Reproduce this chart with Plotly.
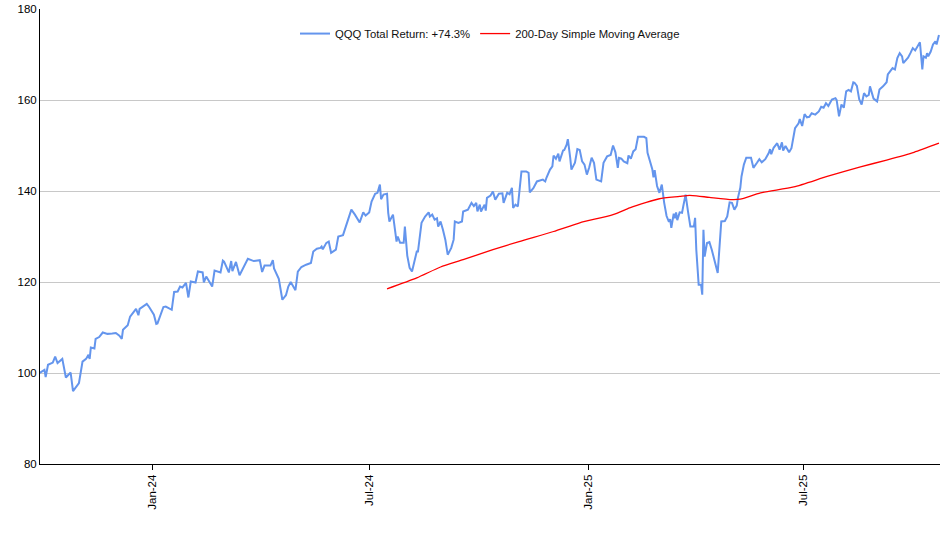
import plotly.graph_objects as go

# ---- data ----
qqq_dates = [
    "2023-09-28", "2023-10-02", "2023-10-03", "2023-10-05", "2023-10-09", "2023-10-11", "2023-10-13", "2023-10-17",
    "2023-10-20", "2023-10-24", "2023-10-26", "2023-10-31", "2023-11-03", "2023-11-06", "2023-11-08", "2023-11-09",
    "2023-11-10", "2023-11-13", "2023-11-14", "2023-11-17", "2023-11-20", "2023-11-24", "2023-11-28", "2023-12-01",
    "2023-12-04", "2023-12-06", "2023-12-07", "2023-12-11", "2023-12-13", "2023-12-15", "2023-12-18", "2023-12-20",
    "2023-12-21", "2023-12-27", "2023-12-29", "2024-01-02", "2024-01-04", "2024-01-05", "2024-01-08", "2024-01-10",
    "2024-01-12", "2024-01-17", "2024-01-19", "2024-01-22", "2024-01-24", "2024-01-26", "2024-01-29", "2024-01-31",
    "2024-02-02", "2024-02-06", "2024-02-08", "2024-02-12", "2024-02-13", "2024-02-15", "2024-02-20", "2024-02-22",
    "2024-02-27", "2024-02-29", "2024-03-01", "2024-03-05", "2024-03-07", "2024-03-08", "2024-03-11", "2024-03-14",
    "2024-03-21", "2024-03-26", "2024-03-31", "2024-04-02", "2024-04-04", "2024-04-09", "2024-04-11", "2024-04-12",
    "2024-04-16", "2024-04-19", "2024-04-22", "2024-04-24", "2024-04-26", "2024-04-30", "2024-05-02", "2024-05-05",
    "2024-05-09", "2024-05-13", "2024-05-15", "2024-05-18", "2024-05-21", "2024-05-22", "2024-05-23", "2024-05-26",
    "2024-05-28", "2024-05-30", "2024-06-03", "2024-06-05", "2024-06-09", "2024-06-13", "2024-06-16", "2024-06-19",
    "2024-06-23", "2024-06-26", "2024-06-28", "2024-07-01", "2024-07-03", "2024-07-06", "2024-07-08", "2024-07-10",
    "2024-07-11", "2024-07-13", "2024-07-16", "2024-07-17", "2024-07-18", "2024-07-21", "2024-07-24", "2024-07-25",
    "2024-07-27", "2024-07-30", "2024-07-31", "2024-08-02", "2024-08-04", "2024-08-06", "2024-08-07", "2024-08-09",
    "2024-08-10", "2024-08-11", "2024-08-14", "2024-08-17", "2024-08-20", "2024-08-21", "2024-08-23", "2024-08-25",
    "2024-08-27", "2024-08-28", "2024-08-30", "2024-09-01", "2024-09-03", "2024-09-05", "2024-09-08", "2024-09-10",
    "2024-09-11", "2024-09-14", "2024-09-17", "2024-09-18", "2024-09-22", "2024-09-25", "2024-09-27", "2024-09-29",
    "2024-09-30", "2024-10-02", "2024-10-03", "2024-10-06", "2024-10-07", "2024-10-08", "2024-10-11", "2024-10-13",
    "2024-10-15", "2024-10-18", "2024-10-21", "2024-10-22", "2024-10-25", "2024-10-27", "2024-10-29", "2024-10-30",
    "2024-11-01", "2024-11-03", "2024-11-06", "2024-11-10", "2024-11-12", "2024-11-13", "2024-11-16", "2024-11-19",
    "2024-11-24", "2024-11-26", "2024-11-27", "2024-11-30", "2024-12-02", "2024-12-03", "2024-12-05", "2024-12-07",
    "2024-12-08", "2024-12-11", "2024-12-12", "2024-12-14", "2024-12-15", "2024-12-17", "2024-12-18", "2024-12-21",
    "2024-12-23", "2024-12-25", "2024-12-27", "2024-12-29", "2024-12-31", "2025-01-02", "2025-01-04", "2025-01-06",
    "2025-01-08", "2025-01-12", "2025-01-14", "2025-01-17", "2025-01-20", "2025-01-22", "2025-01-24", "2025-01-26",
    "2025-01-27", "2025-01-29", "2025-01-31", "2025-02-03", "2025-02-04", "2025-02-06", "2025-02-08", "2025-02-10",
    "2025-02-12", "2025-02-17", "2025-02-19", "2025-02-20", "2025-02-22", "2025-02-24", "2025-02-25", "2025-02-26",
    "2025-02-28", "2025-03-02", "2025-03-04", "2025-03-05", "2025-03-06", "2025-03-08", "2025-03-10", "2025-03-11",
    "2025-03-12", "2025-03-14", "2025-03-15", "2025-03-16", "2025-03-17", "2025-03-19", "2025-03-21", "2025-03-22",
    "2025-03-24", "2025-03-26", "2025-03-28", "2025-03-31", "2025-04-01", "2025-04-02", "2025-04-04", "2025-04-06",
    "2025-04-07", "2025-04-08", "2025-04-09", "2025-04-11", "2025-04-13", "2025-04-15", "2025-04-18", "2025-04-20",
    "2025-04-23", "2025-04-26", "2025-04-28", "2025-04-30", "2025-05-02", "2025-05-04", "2025-05-06", "2025-05-07",
    "2025-05-09", "2025-05-10", "2025-05-12", "2025-05-14", "2025-05-18", "2025-05-20", "2025-05-23", "2025-05-25",
    "2025-05-27", "2025-05-30", "2025-06-02", "2025-06-03", "2025-06-04", "2025-06-06", "2025-06-09", "2025-06-10",
    "2025-06-11", "2025-06-13", "2025-06-14", "2025-06-16", "2025-06-19", "2025-06-21", "2025-06-24", "2025-06-27",
    "2025-06-28", "2025-06-30", "2025-07-02", "2025-07-04", "2025-07-06", "2025-07-08", "2025-07-11", "2025-07-14",
    "2025-07-16", "2025-07-18", "2025-07-20", "2025-07-22", "2025-07-25", "2025-07-28", "2025-07-29", "2025-07-31",
    "2025-08-01", "2025-08-02", "2025-08-04", "2025-08-06", "2025-08-08", "2025-08-10", "2025-08-12", "2025-08-13",
    "2025-08-15", "2025-08-17", "2025-08-19", "2025-08-21", "2025-08-23", "2025-08-25", "2025-08-26", "2025-08-28",
    "2025-08-29", "2025-09-01", "2025-09-03", "2025-09-06", "2025-09-09", "2025-09-10", "2025-09-13", "2025-09-14",
    "2025-09-16", "2025-09-18", "2025-09-20", "2025-09-22", "2025-09-23", "2025-09-25", "2025-09-27", "2025-09-29",
    "2025-10-01", "2025-10-03", "2025-10-05", "2025-10-07", "2025-10-09", "2025-10-10", "2025-10-12", "2025-10-13",
    "2025-10-14", "2025-10-16", "2025-10-18", "2025-10-20", "2025-10-21", "2025-10-23",
]

qqq_values = [
    100.0, 100.7, 99.1, 101.8, 102.3, 103.6, 102.2, 103.1,
    99.0, 100.1, 96.0, 97.8, 102.5, 103.1, 104.0, 103.1,
    105.6, 105.4, 107.5, 107.9, 108.9, 108.6, 108.7, 108.8,
    108.2, 107.5, 109.5, 110.5, 112.4, 113.2, 114.1, 112.7,
    114.1, 115.2, 114.5, 112.8, 110.8, 110.9, 113.2, 114.5,
    114.6, 113.9, 117.8, 117.9, 119.0, 118.8, 119.8, 116.6,
    120.1, 119.9, 122.3, 122.1, 119.9, 121.2, 119.0, 122.5,
    122.1, 124.7, 124.5, 122.1, 124.6, 122.4, 124.4, 121.5,
    125.1, 124.6, 124.8, 122.2, 123.6, 123.6, 124.8, 123.0,
    120.7, 116.1, 117.1, 119.0, 120.0, 118.2, 122.3, 123.3,
    123.8, 124.2, 126.7, 127.3, 127.5, 127.8, 127.2, 128.6,
    128.9, 126.4, 127.1, 130.0, 130.3, 133.7, 135.9, 134.8,
    133.1, 135.3, 134.6, 135.3, 137.7, 139.4, 139.6, 141.4,
    138.2, 139.2, 139.4, 135.2, 133.3, 134.8, 128.9, 130.0,
    128.6, 128.6, 132.2, 125.8, 123.1, 122.3, 123.6, 125.9,
    126.7, 126.7, 133.0, 134.4, 135.3, 134.4, 134.8, 133.7,
    134.0, 132.2, 133.3, 131.5, 129.3, 126.0, 127.5, 129.3,
    133.3, 133.0, 133.3, 135.5, 135.9, 137.4, 136.7, 137.4,
    135.5, 137.0, 135.5, 137.0, 135.7, 138.5, 139.0, 139.9,
    138.1, 139.4, 139.5, 137.4, 139.6, 139.3, 140.7, 136.3,
    137.0, 136.6, 144.3, 144.3, 144.0, 139.7, 140.6, 142.1,
    142.5, 142.1, 142.9, 144.7, 145.4, 147.8, 147.1, 148.2,
    146.5, 148.9, 149.0, 150.2, 151.4, 147.3, 144.7, 146.2,
    149.2, 149.0, 146.5, 145.8, 143.6, 145.2, 147.3, 146.2,
    142.5, 142.1, 146.2, 147.6, 147.9, 150.0, 148.5, 145.1,
    147.3, 147.1, 146.5, 146.1, 147.8, 147.1, 148.7, 149.2,
    151.9, 151.9, 151.6, 148.4, 146.5, 144.8, 143.0, 144.6,
    141.1, 139.6, 141.4, 138.8, 137.4, 134.5, 133.2, 133.8,
    131.9, 135.0, 134.0, 135.3, 133.6, 135.3, 135.2, 136.6,
    139.2, 135.5, 132.2, 132.2, 134.1, 127.1, 119.4, 119.4,
    117.2, 131.5, 125.6, 128.6, 128.8, 127.1, 124.2, 122.0,
    133.3, 133.4, 134.4, 137.5, 137.4, 135.9, 136.8, 138.5,
    140.7, 143.2, 145.8, 147.3, 147.3, 145.1, 146.2, 147.0,
    146.3, 147.0, 148.4, 149.2, 148.1, 149.5, 150.5, 149.6,
    149.1, 150.7, 148.9, 149.9, 148.5, 149.4, 153.8, 154.9,
    155.8, 154.3, 156.9, 156.2, 156.3, 157.1, 156.8, 157.5,
    158.5, 158.3, 159.3, 158.7, 160.1, 160.4, 160.0, 156.4,
    157.9, 159.0, 158.3, 161.9, 162.2, 161.9, 163.9, 163.8,
    163.1, 160.1, 159.0, 161.5, 160.8, 161.1, 163.0, 160.8,
    160.3, 159.7, 162.3, 163.0, 163.9, 165.6, 166.7, 167.0,
    166.7, 169.2, 170.3, 169.6, 168.1, 168.8, 169.3, 170.3,
    171.4, 170.9, 171.8, 172.7, 166.7, 169.6, 169.3, 170.3,
    169.6, 170.6, 172.2, 172.9, 172.2, 174.3,
]

sma_dates = [
    "2024-07-16", "2024-08-10", "2024-08-30", "2024-09-18", "2024-10-13", "2024-11-04", "2024-12-03",
    "2024-12-25", "2025-01-22", "2025-02-05", "2025-02-19", "2025-03-02", "2025-03-19", "2025-03-25",
    "2025-03-30", "2025-04-13", "2025-05-02", "2025-05-09", "2025-05-26", "2025-06-23", "2025-07-21",
    "2025-08-18", "2025-09-09", "2025-10-02", "2025-10-23",
]
sma_values = [
    118.5, 120.9, 123.3, 124.9, 127.1, 128.9, 131.1,
    133.0, 134.8, 136.3, 137.5, 138.3, 138.8, 139.0,
    139.0, 138.6, 138.1, 138.2, 139.6, 140.9, 143.2,
    145.3, 146.8, 148.5, 150.5,
]

qqq_label = "QQQ Total Return: +74.3%"
sma_label = "200-Day Simple Moving Average"
x_range = ["2023-09-28 06:00", "2025-10-23 21:00"]
y_range = [80, 180]

fig = go.Figure()
fig.add_trace(go.Scatter(x=qqq_dates, y=qqq_values, mode="lines", name=qqq_label,
                         line=dict(color="#6495ED", width=2)))
fig.add_trace(go.Scatter(x=sma_dates, y=sma_values, mode="lines", name=sma_label,
                         line=dict(color="#FF0000", width=1.3, shape="spline", smoothing=0.6)))

fig.update_layout(
    width=940, height=550,
    margin=dict(l=40, r=0, t=9, b=86),
    paper_bgcolor="white", plot_bgcolor="white",
    font=dict(family="'Liberation Sans', Arial, sans-serif", size=11.5, color="black"),
    legend=dict(orientation="h", x=0.5, xanchor="center", y=0.946, yanchor="middle",
                bgcolor="rgba(0,0,0,0)", font=dict(size=11.3, color="#111111")),
    showlegend=True,
)
fig.update_xaxes(type="date", range=x_range, tickmode="linear", tick0="2024-01-01", dtick="M6",
                 tickformat="%b-%y", tickangle=-90, ticks="outside", ticklen=5, tickcolor="black",
                 showline=True, linecolor="black", linewidth=1, showgrid=False, zeroline=False)
fig.update_yaxes(range=y_range, tickmode="linear", tick0=80, dtick=20, showgrid=True,
                 gridcolor="#c8c8c8", gridwidth=1, showline=True, linecolor="black", linewidth=1,
                 ticks="", zeroline=False)

fig.write_html("out.html", config={"displayModeBar": False},
               post_script="document.body.style.margin='0';")
